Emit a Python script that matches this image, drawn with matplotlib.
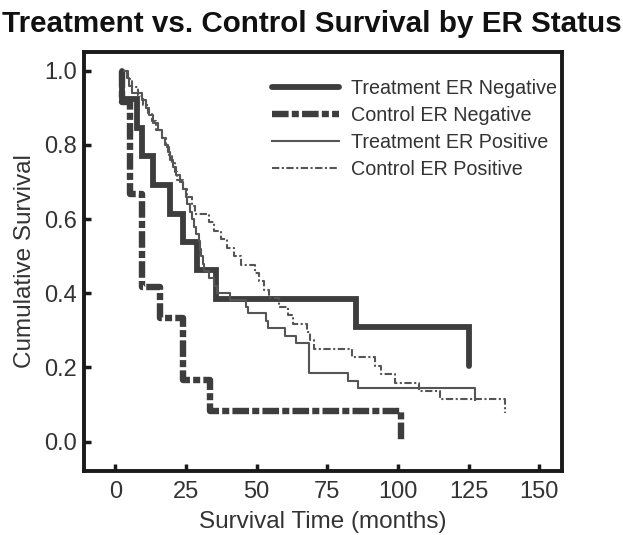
import matplotlib.pyplot as plt

plt.rcParams['font.family'] = ['Liberation Sans', 'DejaVu Sans']

# survival curves (time in months, cumulative survival)
trt_neg_t = [2.5, 2.5, 7.7, 9.4, 13.3, 19.4, 23.8, 29.0, 35.8, 85.0, 125.0]
trt_neg_s = [1.0, 0.923, 0.846, 0.769, 0.692, 0.615, 0.538, 0.462, 0.385, 0.308, 0.205]

ctrl_neg_t = [2.3, 2.3, 5.4, 9.3, 16.0, 23.8, 33.5, 101.0]
ctrl_neg_s = [1.0, 0.917, 0.667, 0.417, 0.333, 0.167, 0.083, 0.0]

trt_pos_t = [3.0, 4.0, 5.0, 6.0, 9.5, 11.0, 12.0, 13.5, 15.0, 16.5, 17.5, 18.5,
             19.5, 20.5, 21.5, 23.0, 24.0, 25.0, 25.5, 26.5, 27.0, 28.0, 28.5,
             29.5, 30.0, 30.5, 31.0, 31.5, 33.0, 35.0, 36.0, 40.5, 46.4, 47.0,
             53.4, 54.0, 60.0, 64.0, 68.7, 82.2, 85.7, 127.3]
trt_pos_s = [1.0, 0.98, 0.96, 0.94, 0.92, 0.90, 0.88, 0.86, 0.84, 0.82, 0.80, 0.78,
             0.76, 0.74, 0.72, 0.70, 0.68, 0.66, 0.64, 0.62, 0.60, 0.58, 0.56,
             0.54, 0.52, 0.50, 0.48, 0.46, 0.44, 0.42, 0.40, 0.382, 0.364, 0.346,
             0.325, 0.305, 0.285, 0.265, 0.184, 0.162, 0.144, 0.112]

ctrl_pos_t = [4.0, 4.5, 6.0, 8.0, 10.0, 11.5, 13.0, 14.5, 16.5, 18.0, 19.0, 20.0,
              21.0, 22.0, 24.0, 25.5, 27.0, 28.2, 33.0, 35.0, 37.5, 39.5, 42.0,
              44.4, 49.5, 50.8, 52.6, 54.3, 58.0, 61.0, 63.0, 67.8, 69.0, 70.2,
              83.9, 92.0, 94.0, 99.0, 107.4, 115.0, 138.0]
ctrl_pos_s = [1.0, 0.977, 0.955, 0.932, 0.909, 0.886, 0.864, 0.841, 0.818, 0.795,
              0.773, 0.75, 0.727, 0.705, 0.682, 0.659, 0.636, 0.614, 0.591, 0.568,
              0.545, 0.523, 0.5, 0.477, 0.455, 0.432, 0.409, 0.386, 0.364, 0.341,
              0.318, 0.295, 0.273, 0.25, 0.227, 0.205, 0.182, 0.159, 0.136, 0.114,
              0.076]

labels = ['Treatment ER Negative', 'Control ER Negative',
          'Treatment ER Positive', 'Control ER Positive']
xticks = [0, 25, 50, 75, 100, 125, 150]
yticks = [0.0, 0.2, 0.4, 0.6, 0.8, 1.0]

fig = plt.figure(figsize=(6.23, 5.35), dpi=100)
ax = fig.add_axes([0.135, 0.12, 0.767, 0.783])

dark = '#3d3d3d'
ax.step(trt_neg_t, trt_neg_s, where='post', color=dark, lw=4.2,
        solid_capstyle='round', solid_joinstyle='miter', label=labels[0])
ax.step(ctrl_neg_t, ctrl_neg_s, where='post', color=dark, lw=4.6,
        linestyle=(0, (2.6, 0.5, 1.1, 0.5)), dash_capstyle='butt', label=labels[1])
ax.step(trt_pos_t, trt_pos_s, where='post', color='#555555', lw=1.5, label=labels[2])
ax.step(ctrl_pos_t, ctrl_pos_s, where='post', color='#555555', lw=1.5,
        linestyle=(0, (3.5, 1.2, 1, 1.2)), label=labels[3])

ax.set_xlim(-11, 158)
ax.set_ylim(-0.079, 1.051)
ax.set_xticks(xticks)
ax.set_yticks(yticks)
ax.set_yticklabels([f'{v:.1f}' for v in yticks])
ax.tick_params(direction='in', length=5, width=2.5, labelsize=17, colors='#1a1a1a',
               labelcolor='#333333')
ax.tick_params(axis='x', pad=7)
ax.tick_params(axis='y', pad=5)
for sp in ax.spines.values():
    sp.set_linewidth(2.8)
    sp.set_color('#1a1a1a')

ax.set_xlabel('Survival Time (months)', fontsize=17.5, color='#333333', labelpad=6)
ax.set_ylabel('Cumulative Survival', fontsize=17.5, color='#333333', labelpad=6)
fig.text(0.5, 1 - 32 / 535, 'Treatment vs. Control Survival by ER Status',
         ha='center', va='baseline', fontsize=21.3, fontweight='bold', color='#111111')

ax.legend(loc='upper left', bbox_to_anchor=(0.393, 0.935), frameon=False,
          fontsize=14.2, handlelength=3.4, handletextpad=0.6, labelspacing=0.4,
          borderpad=0, borderaxespad=0, labelcolor='#333333')

plt.savefig('out.png', dpi=100)
